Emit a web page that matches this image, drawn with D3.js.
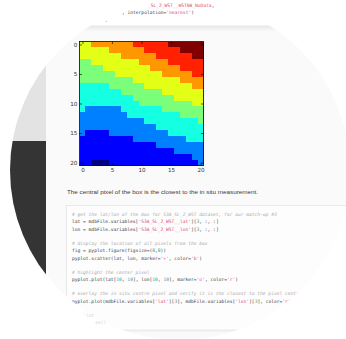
<!DOCTYPE html>
<html>
<head>
<meta charset="utf-8">
<script src="https://cdn.jsdelivr.net/npm/d3@7"></script>
<style>
  html, body { margin: 0; padding: 0; background: #fff; overflow: hidden; }
  svg { display: block; }
</style>
</head>
<body>
<svg id="fig" width="346" height="339"></svg>
<script>
// 21 x 21 box of pixels around the match-up, as colour levels (0 = lowest, 8 = highest)
const rowIndex = d3.range(21);
const colIndex = d3.range(21);
const pixelLevels = [
  [5,5,6,6,6,6,6,6,6,7,7,7,7,7,7,8,8,8,8,8,8],
  [5,5,5,5,5,6,6,6,6,6,6,7,7,7,7,7,7,8,8,8,8],
  [5,5,5,5,5,5,5,6,6,6,6,6,6,7,7,7,7,7,7,8,8],
  [4,4,5,5,5,5,5,5,5,5,6,6,6,6,6,7,7,7,7,7,7],
  [4,4,4,4,5,5,5,5,5,5,5,5,6,6,6,6,6,7,7,7,7],
  [4,4,4,4,4,4,5,5,5,5,5,5,5,5,6,6,6,6,6,7,7],
  [4,4,4,4,4,4,4,4,4,5,5,5,5,5,5,5,5,6,6,6,6],
  [3,3,3,3,3,4,4,4,4,4,4,5,5,5,5,5,5,5,5,6,6],
  [3,3,3,3,3,3,3,4,4,4,4,4,4,4,5,5,5,5,5,5,5],
  [3,3,3,3,3,3,3,3,3,4,4,4,4,4,4,4,5,5,5,5,5],
  [3,3,3,3,3,3,3,3,3,3,4,4,4,4,4,4,4,4,4,5,5],
  [3,2,2,2,2,2,2,3,3,3,3,3,3,3,4,4,4,4,4,4,4],
  [2,2,2,2,2,2,2,2,3,3,3,3,3,3,3,3,3,4,4,4,4],
  [2,2,2,2,2,2,2,2,2,2,2,3,3,3,3,3,3,3,3,3,4],
  [2,2,2,2,2,2,2,2,2,2,2,2,2,3,3,3,3,3,3,3,3],
  [2,1,1,1,1,2,2,2,2,2,2,2,2,2,2,3,3,3,3,3,3],
  [1,1,1,1,1,1,1,1,1,2,2,2,2,2,2,2,2,2,3,3,3],
  [1,1,1,1,1,1,1,1,1,1,1,1,1,2,2,2,2,2,2,2,2],
  [1,1,1,1,1,1,1,1,1,1,1,1,1,1,1,1,2,2,2,2,2],
  [1,1,1,1,1,1,1,1,1,1,1,1,1,1,1,1,1,1,1,2,2],
  [1,1,0,0,0,1,1,1,1,1,1,1,1,1,1,1,1,1,1,1,2]
];
const levelRange = [0, 8];
const tickValues = [0, 5, 10, 15, 20];

// matplotlib "jet" colour map, channel by channel
const jetR = d3.scaleLinear().domain([0, 0.35, 0.66, 0.89, 1]).range([0, 0, 1, 1, 0.5]).clamp(true);
const jetG = d3.scaleLinear().domain([0, 0.125, 0.375, 0.64, 0.91, 1]).range([0, 0, 1, 1, 0, 0]).clamp(true);
const jetB = d3.scaleLinear().domain([0, 0.11, 0.34, 0.65, 1]).range([0.5, 1, 1, 0, 0]).clamp(true);
const jet = t => d3.rgb(jetR(t) * 255, jetG(t) * 255, jetB(t) * 255).formatHex();
const levelToT = d3.scaleLinear().domain(levelRange).range([0, 1]);
const color = v => jet(levelToT(v));

const svg = d3.select("#fig");
const defs = svg.append("defs");
defs.append("clipPath").attr("id", "lens")
  .append("circle").attr("cx", 180).attr("cy", 170).attr("r", 170);
const shade = defs.append("linearGradient").attr("id", "cellTop")
  .attr("x1", 0).attr("y1", 0).attr("x2", 0).attr("y2", 1);
shade.append("stop").attr("offset", 0).attr("stop-color", "#e6e6e6");
shade.append("stop").attr("offset", 1).attr("stop-color", "#fafafa");

const page = svg.append("g").attr("clip-path", "url(#lens)");

// page background and the side panel of the notebook window
page.append("rect").attr("x", 0).attr("y", 0).attr("width", 346).attr("height", 339).attr("fill", "#ffffff");
page.append("rect").attr("x", 46).attr("y", 27).attr("width", 300).attr("height", 312).attr("fill", "#fafafa");
page.append("rect").attr("x", 46).attr("y", 25.5).attr("width", 300).attr("height", 6).attr("fill", "url(#cellTop)");
page.append("rect").attr("x", 0).attr("y", 0).attr("width", 46).attr("height", 141).attr("fill", "#e3e3e3");
page.append("rect").attr("x", 0).attr("y", 141).attr("width", 46).attr("height", 198).attr("fill", "#343434");

const mono = "'DejaVu Sans Mono', 'Liberation Mono', monospace";
const palette = { d: "#3c3c3c", s: "#dc4a76", n: "#2aa0a6", c: "#ababab" };

function codeLine(g, x, y, parts) {
  const t = g.append("text").attr("x", x).attr("y", y)
    .attr("font-family", mono).attr("font-size", 4.6)
    .attr("xml:space", "preserve").style("white-space", "pre");
  parts.forEach(([txt, k]) => {
    const ts = t.append("tspan").text(txt).attr("fill", palette[k]);
    if (k === "c") ts.attr("font-style", "italic");
  });
  return t;
}

// tail of the previous cell's code
codeLine(page, 148, 7, [["_SL_2_WST__WSTNB_NoData", "s"], [",", "d"]]);
codeLine(page, 122, 14, [[", interpolation=", "d"], ["'nearest'", "s"], [")", "d"]]);
codeLine(page, 105, 22, [[".", "d"]]);

// ---- heat map of the pixel box ----
const x = d3.scaleLinear().domain([-0.5, 20.5]).range([79.5, 203.5]);
const y = d3.scaleLinear().domain([-0.5, 20.5]).range([41.5, 165.5]);

const cells = [];
rowIndex.forEach(r => colIndex.forEach(c => cells.push({ r, c, v: pixelLevels[r][c] })));

const plot = page.append("g");
plot.append("g").selectAll("rect").data(cells).join("rect")
  .attr("x", d => x(d.c - 0.5))
  .attr("y", d => y(d.r - 0.5))
  .attr("width", d => x(d.c + 0.5) - x(d.c - 0.5))
  .attr("height", d => y(d.r + 0.5) - y(d.r - 0.5))
  .attr("fill", d => color(d.v))
  .attr("shape-rendering", "crispEdges");

const tickFont = "'DejaVu Sans', 'Liberation Sans', sans-serif";
function styleAxis(g) {
  g.select(".domain").remove();
  g.selectAll(".tick line").attr("stroke", "#000").attr("stroke-width", 0.6);
  g.selectAll(".tick text").attr("fill", "#333").attr("font-family", tickFont).attr("font-size", 5.6);
}
plot.append("g").attr("transform", `translate(0,${y(20.5)})`)
  .call(d3.axisBottom(x).tickValues(tickValues).tickSize(-2.5).tickPadding(2.6)).call(styleAxis);
plot.append("g").attr("transform", `translate(${x(-0.5)},0)`)
  .call(d3.axisLeft(y).tickValues(tickValues).tickSize(-2.5).tickPadding(2.2)).call(styleAxis);
plot.append("g").attr("transform", `translate(0,${y(-0.5)})`)
  .call(d3.axisTop(x).tickValues(tickValues).tickSize(-2.5).tickFormat("")).call(styleAxis);
plot.append("g").attr("transform", `translate(${x(20.5)},0)`)
  .call(d3.axisRight(y).tickValues(tickValues).tickSize(-2.5).tickFormat("")).call(styleAxis);
plot.append("rect")
  .attr("x", x(-0.5)).attr("y", y(-0.5))
  .attr("width", x(20.5) - x(-0.5)).attr("height", y(20.5) - y(-0.5))
  .attr("fill", "none").attr("stroke", "#000").attr("stroke-width", 0.8);

// ---- markdown caption ----
page.append("text").attr("x", 67).attr("y", 194)
  .attr("font-family", "'Liberation Sans', Arial, sans-serif").attr("font-size", 6.2)
  .attr("fill", "#3a3a3a")
  .attr("textLength", 191).attr("lengthAdjust", "spacingAndGlyphs")
  .text("The central pixel of the box is the closest to the in situ measurement.");

// ---- next code cell ----
page.append("rect").attr("x", 66.5).attr("y", 205.5).attr("width", 285).attr("height", 125)
  .attr("fill", "#fdfdfd").attr("stroke", "#e4e4e4").attr("stroke-width", 0.8);

const codeLines = [
  [215.8, [["# get the lat/lon of the box for S3A_SL_2_WST dataset, for our match-up #3", "c"]]],
  [223.2, [["lat = mdbFile.variables[", "d"], ["'S3A_SL_2_WST__lat'", "s"], ["][", "d"], ["3", "n"], [", :, :]", "d"]]],
  [230.6, [["lon = mdbFile.variables[", "d"], ["'S3A_SL_2_WST__lon'", "s"], ["][", "d"], ["3", "n"], [", :, :]", "d"]]],
  [244.8, [["# display the location of all pixels from the box", "c"]]],
  [252.2, [["fig = pyplot.figure(figsize=(", "d"], ["8", "n"], [",", "d"], ["8", "n"], ["))", "d"]]],
  [259.6, [["pyplot.scatter(lat, lon, marker=", "d"], ["'+'", "s"], [", color=", "d"], ["'b'", "s"], [")", "d"]]],
  [273.8, [["# highlight the center pixel", "c"]]],
  [281.2, [["pyplot.plot(lat[", "d"], ["10", "n"], [", ", "d"], ["10", "n"], ["], lon[", "d"], ["10", "n"], [", ", "d"], ["10", "n"], ["], marker=", "d"], ["'o'", "s"], [", color=", "d"], ["'r'", "s"], [")", "d"]]],
  [295.4, [["# overlay the in situ centre pixel and verify it is the closest to the pixel centre", "c"]]],
  [302.8, [["pyplot.plot(mdbFile.variables[", "d"], ["'lat'", "s"], ["][", "d"], ["3", "n"], ["], mdbFile.variables[", "d"], ["'lon'", "s"], ["][", "d"], ["3", "n"], ["], color=", "d"], ["'r'", "s"], [")", "d"]]]
];
const codeG = page.append("g");
codeLines.forEach(([yy, parts]) => codeLine(codeG, 72, yy, parts));

// soft shadow under the code cell
page.append("rect").attr("x", 46).attr("y", 329.5).attr("width", 300).attr("height", 2).attr("fill", "#ececec");

// faint trailing lines near the lower edge of the lens
const tail = svg.append("g").attr("opacity", 0.55);
codeLine(tail, 83, 316.5, [["'lat", "c"]]);
codeLine(tail, 95, 323.5, [["se()", "c"]]);
</script>
</body>
</html>
